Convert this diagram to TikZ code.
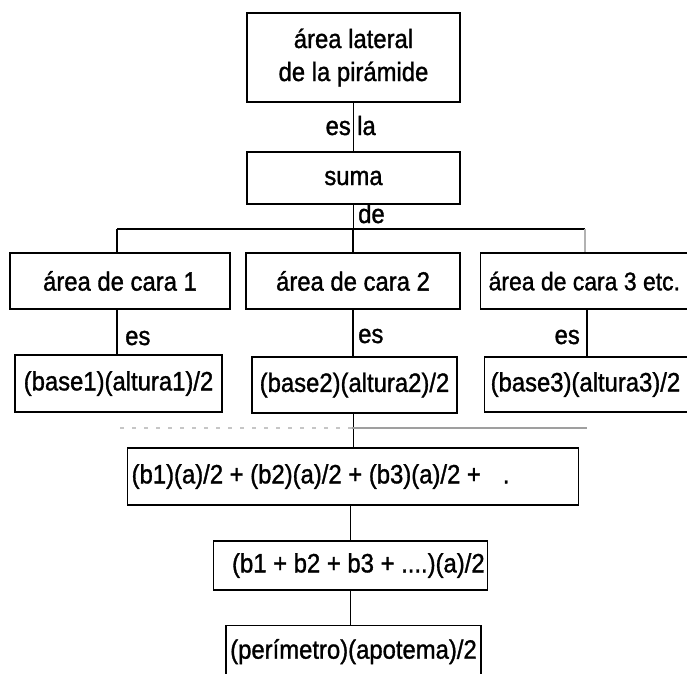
\documentclass[tikz,border=0pt]{standalone}
\usepackage{fontspec}
\setmainfont{Liberation Sans}[FakeStretch=0.9,FakeBold=1.2]
\newcommand\diagfont{\fontsize{26.5}{33}\selectfont}
\newcommand\natsp{\spaceskip=0pt\xspaceskip=0pt\relax}
\begin{document}
\begin{tikzpicture}[x=1pt,y=-1pt,
  box/.style={draw, line width=1.3pt, inner sep=0pt, font=\diagfont, align=center},
  lbl/.style={inner sep=0pt, font=\diagfont},
  conn/.style={line width=1.3pt}]
\useasboundingbox (0,0) rectangle (687,673);
\clip (0,0) rectangle (687,673);
\fill[white] (0,0) rectangle (687,673);
% boxes
\node[box, minimum width=213pt, minimum height=89pt] (top) at (353.5,57.5) {área lateral\\de la pirámide};
\node[box, minimum width=213pt, minimum height=52pt] (suma) at (353.5,178) {suma};
\node[box, minimum width=220pt, minimum height=56pt] (c1) at (120,281) {área de cara 1};
\node[box, minimum width=214pt, minimum height=56pt] (c2) at (353,281) {área de cara 2};
\node[box, anchor=west, minimum height=56pt, text width=215pt, inner xsep=8pt, align=left] (c3) at (480,281) {\natsp\mbox{\fontsize{25.5}{33}\selectfont área de cara 3 etc.}};
\node[box, minimum width=207pt, minimum height=57pt] (b1) at (118.5,383.5) {(base1)(altura1)/2};
\node[box, minimum width=205pt, minimum height=56pt] (b2) at (354.5,385) {(base2)(altura2)/2};
\node[box, anchor=west, minimum height=55pt, text width=215pt, inner xsep=6pt, align=left] (b3) at (484,384.5) {\mbox{(base3)(altura3)/2}};
\node[box, anchor=west, minimum height=57pt, text width=443pt, inner xsep=4pt, align=left] (big) at (127,476.5) {\natsp\mbox{(b1)(a)/2 + (b2)(a)/2 + (b3)(a)/2 +\hspace{22pt}.}};
\node[box, anchor=west, minimum height=49pt, text width=268pt, inner xsep=3pt, align=right] (s2) at (213,565.5) {\natsp\mbox{(b1 + b2 + b3 + ....)(a)/2}};
\node[box, anchor=north, minimum width=255pt, text height=20pt, text depth=8pt, inner ysep=13pt] (per) at (353.5,625) {(perímetro)(apotema)/2};
% coordinates
\coordinate (bar) at (353,229);
\coordinate (barL) at (117,229);
\coordinate (barR) at (585,229);
\coordinate (c3x) at (587,0);
% connectors
\draw[conn] (top.south) -- (suma.north);
\draw[conn] (suma.south) -- (suma.south |- bar);
\draw[conn] (barL) -- (barR);
\draw[conn] (barL) -- (barL |- c1.north);
\draw[conn] (c2.north |- bar) -- (c2.north);
\draw[conn, gray!60] (barR) -- (barR |- c3.north);
\draw[conn] (c1.south -| barL) -- (b1.north -| barL);
\draw[conn] (c2.south) -- (c2.south |- b2.north);
\draw[conn] (c3.south -| c3x) -- (b3.north -| c3x);
\draw[conn] (big.north |- b2.south) -- (big.north);
\draw[conn] (s2.north |- big.south) -- (s2.north);
\draw[conn] (s2.south) -- (s2.south |- per.north);
% faint bar under the second row
\coordinate (fL) at (120,428);
\coordinate (fM) at (352,428);
\coordinate (fR) at (587,428);
\draw[gray!45, line width=1.5pt, dash pattern=on 4pt off 8pt] (fL) -- (fM);
\draw[gray!75, line width=1.3pt] (fM) -- (fR);
% labels
\node[lbl, anchor=base east] (es0) at (351,135) {es};
\node[lbl, anchor=base west] (la0) at (357,135) {la};
\node[lbl, anchor=base west] (de0) at (358,223) {de};
\node[lbl, anchor=base west] (es1) at (125,345) {es};
\node[lbl, anchor=base west] (es2) at (358,343) {es};
\node[lbl, anchor=base east] (es3) at (580,344) {es};
\end{tikzpicture}
\end{document}
